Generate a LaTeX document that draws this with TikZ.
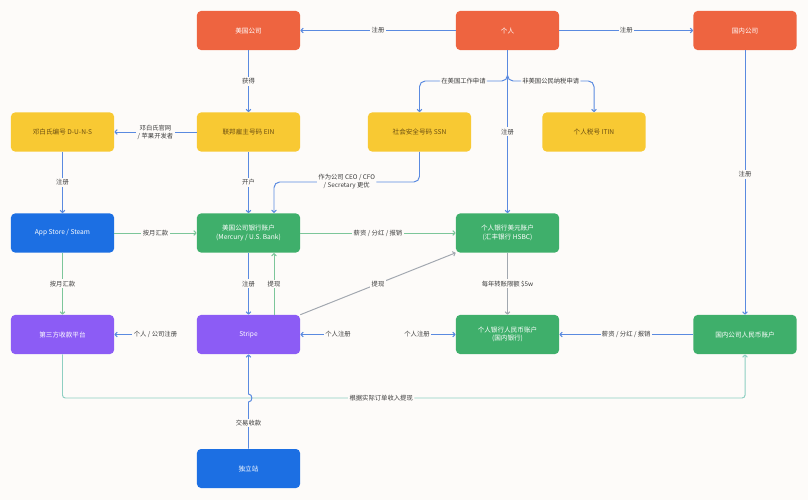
\documentclass[tikz,border=0pt]{standalone}
\usepackage{fontspec}
\setmainfont{Noto Sans CJK SC}
\usepackage{xcolor}
\usepackage{tikz}
\usetikzlibrary{arrows.meta}

\definecolor{bg}{HTML}{FDFBF9}
\definecolor{corange}{HTML}{EE6440}
\definecolor{cyellow}{HTML}{F8C933}
\definecolor{cblue}{HTML}{1C6FE3}
\definecolor{cgreen}{HTML}{3FAF6B}
\definecolor{cpurple}{HTML}{8C5CF5}
\definecolor{ybrown}{HTML}{6B4E12}
\definecolor{lblue}{HTML}{5A8AE0}
\definecolor{lgreen}{HTML}{7CC69A}
\definecolor{lteal}{HTML}{8ECFC2}
\definecolor{lgray}{HTML}{A2A8B0}
\definecolor{ltext}{HTML}{3C3C3C}

\begin{document}
\begin{tikzpicture}[x=0.025cm, y=-0.025cm,
                    box/.style={fill=#1, text=white,
                    minimum width=2.575cm,
                    minimum height=0.975cm,
                    rounded corners=0.1cm,
                    font=\fontsize{4.7}{5.9}\selectfont,
                    align=center, inner sep=1pt},
                    ybox/.style={box=cyellow, text=ybrown},
                    lbl/.style={fill=bg, text=ltext, inner sep=1pt,
                    font=\fontsize{4.5}{5.7}\selectfont, align=center},
                    flow/.style={draw=#1, line width=0.7pt,
                    -{Straight Barb[length=1.6pt,width=3.4pt]}},
                    flow/.default=lblue]
    \fill[bg] (0,0) rectangle (808,500);
    \useasboundingbox (0,0) rectangle (808,500);

    % row 1
    \node[box=corange](usco) at (248.5,30.5) {美国公司};
    \node[box=corange](person) at (507.5,30.5) {个人};
    \node[box=corange](cnco) at (745,30.5) {国内公司};
    % row 2
    \node[ybox](duns) at (62.5,132) {邓白氏编号 D-U-N-S};
    \node[ybox](ein) at (248.5,132) {联邦雇主号码 EIN};
    \node[ybox](ssn) at (419.5,132) {社会安全号码 SSN};
    \node[ybox](itin) at (594,132) {个人税号 ITIN};
    % row 3
    \node[box=cblue](appstore) at (62.5,233) {App Store / Steam};
    \node[box=cgreen](usbank) at (248.5,233) {美国公司银行账户\\(Mercury / U.S. Bank)};
    \node[box=cgreen](hsbc) at (507.5,233) {个人银行美元账户\\(汇丰银行 HSBC)};
    % row 4
    \node[box=cpurple](thirdpay) at (62.5,334.5) {第三方收款平台};
    \node[box=cpurple](stripe) at (248.5,334.5) {Stripe};
    \node[box=cgreen](cnybank) at (507.5,334.5) {个人银行人民币账户\\(国内银行)};
    \node[box=cgreen](cnyco) at (745,334.5) {国内公司人民币账户};
    \node[box=cblue](indep) at (248.5,468.5) {独立站};

    \draw[flow] (person) -- node[lbl]{注册} (usco);
    \draw[flow] (person) -- node[lbl]{注册} (cnco);
    \draw[flow] (usco) -- node[lbl]{获得} (ein);
    \draw[flow] (ein) -- node[lbl]{邓白氏官网\\/ 苹果开发者} (duns);
    \draw[flow] (ein) -- node[lbl]{开户} (usbank);
    \draw[flow, rounded corners=4pt] (ssn.south) -- (419.5,182)
        -- node[lbl]{作为公司 CEO / CFO\\/ Secretary 更优} (274,182) -- (274,213);
    \draw[flow, rounded corners=4pt] (person.south) -- (507.5,81)
        -- node[lbl]{在美国工作申请} (419.5,81) -- (ssn.north);
    \draw[flow, rounded corners=4pt] (person.south) -- (507.5,81)
        -- node[lbl]{非美国公民纳税申请} (594,81) -- (itin.north);
    \draw[flow] (person) -- node[lbl]{注册} (hsbc);
    \draw[flow] (cnco) -- node[lbl, pos=0.47]{注册} (cnyco);
    \draw[flow] (duns) -- node[lbl]{注册} (appstore);
    \draw[flow=lgreen] (appstore) -- node[lbl]{按月汇款} (usbank);
    \draw[flow=lgreen] (appstore) -- node[lbl]{按月汇款} (thirdpay);
    \draw[flow=lgreen] (usbank) -- node[lbl]{薪资 / 分红 / 报销} (hsbc);
    \draw[flow] (usbank) -- node[lbl]{注册} (stripe);
    \draw[flow=lgreen] (274,315) -- node[lbl]{提现} (274,253);
    \draw[flow=lgray] (stripe.north east) -- node[lbl]{提现} (hsbc.south west);
    \draw[flow=lgray] (hsbc) -- node[lbl]{每年转账限额 \$5w} (cnybank);
    \draw[flow] (cnyco) -- node[lbl]{薪资 / 分红 / 报销} (cnybank);

    % free label arrows
    \node[lbl](regstripe) at (338,334.5) {个人注册};
    \node[lbl](regcny) at (417,334.5) {个人注册};
    \node[lbl](regthird) at (155.5,334.5) {个人 / 公司注册};
    \draw[flow] (regstripe.west) -- (stripe.east);
    \draw[flow] (regcny.east) -- (cnybank.west);
    \draw[flow] (regthird.west) -- (thirdpay.east);

    % bottom loop
    \draw[flow=lteal, rounded corners=2pt] (thirdpay.south) -- (62.5,398)
        -- node[lbl, pos=0.467]{根据实际订单收入提现} (745,398) -- (cnyco.south);
    \draw[flow] (indep.north) -- node[lbl, pos=0.55]{交易收款} (248.5,402)
        .. controls (253,402) and (253,394) .. (248.5,394) -- (stripe.south);
\end{tikzpicture}
\end{document}
